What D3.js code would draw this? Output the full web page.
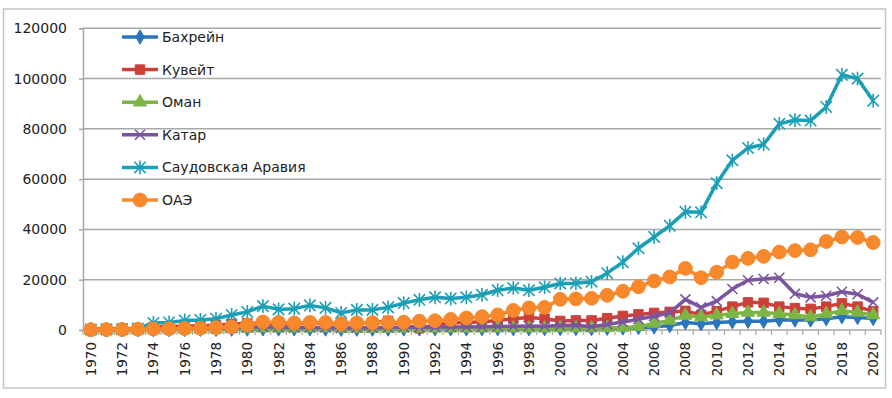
<!DOCTYPE html>
<html>
<head>
<meta charset="utf-8">
<script src="https://cdn.jsdelivr.net/npm/d3@7"></script>
<style>
  body { margin: 0; background: #fff; }
  text { font-family: 'DejaVu Sans', sans-serif; fill: #222; }
</style>
</head>
<body>
<div id="chart"></div>
<script>
// categories
const years = [1970, 1971, 1972, 1973, 1974, 1975, 1976, 1977, 1978, 1979,
               1980, 1981, 1982, 1983, 1984, 1985, 1986, 1987, 1988, 1989,
               1990, 1991, 1992, 1993, 1994, 1995, 1996, 1997, 1998, 1999,
               2000, 2001, 2002, 2003, 2004, 2005, 2006, 2007, 2008, 2009,
               2010, 2011, 2012, 2013, 2014, 2015, 2016, 2017, 2018, 2019, 2020];

// series values
const bahrain = [50, 60, 70, 100, 150, 200, 250, 300, 300, 350,
                 400, 450, 450, 450, 450, 400, 350, 350, 350, 400,
                 450, 450, 500, 500, 500, 550, 550, 550, 500, 550,
                 600, 600, 600, 700, 800, 1000, 1200, 1800, 3000, 2500,
                 3000, 3300, 3500, 3500, 4000, 4000, 4000, 4500, 5300, 5000, 4600];
const kuwait = [300, 350, 400, 500, 1200, 1400, 1600, 1700, 1900, 2400,
                2700, 2600, 2400, 2500, 2700, 2700, 2300, 2800, 3000, 3600,
                2000, 700, 2000, 2800, 3000, 3300, 3800, 4500, 5000, 4500,
                3600, 3800, 3800, 4700, 5600, 6200, 6800, 7200, 7600, 6000,
                7500, 9300, 11000, 10800, 9300, 8700, 8400, 9300, 10600, 9300, 7400];
const oman = [50, 60, 80, 100, 200, 300, 300, 350, 400, 500,
              600, 700, 700, 700, 700, 800, 600, 600, 600, 600,
              700, 700, 700, 700, 700, 700, 750, 750, 700, 700,
              800, 800, 800, 900, 1000, 1300, 2600, 3800, 5800, 5200,
              5900, 6500, 7000, 7000, 6500, 6000, 5200, 6400, 7700, 7000, 6000];
const qatar = [100, 120, 150, 200, 400, 500, 550, 600, 650, 900,
               1200, 1300, 1100, 1000, 1000, 1000, 800, 900, 900, 1000,
               1100, 1100, 1200, 1200, 1200, 1300, 1400, 1500, 1600, 1500,
               1800, 1900, 1300, 2200, 3200, 4300, 5500, 6800, 12200, 9000,
               11500, 16300, 19800, 20300, 20800, 14400, 13000, 13600, 15200, 14200, 11000];
const saudi = [200, 250, 350, 600, 2800, 3000, 3800, 4000, 4500, 6000,
               7200, 9500, 8200, 8500, 9800, 8800, 6800, 8000, 8000, 9000,
               10700, 12000, 13000, 12500, 13000, 14000, 15800, 16700, 15800, 17000,
               18500, 18600, 19200, 22600, 27000, 32500, 37000, 41500, 47000, 46800,
               58400, 67500, 72400, 73800, 82000, 83500, 83300, 88700, 101500, 100000, 91200];
const uae = [100, 150, 200, 300, 400, 500, 600, 700, 900, 1200,
             2000, 3200, 3000, 2800, 3000, 3000, 2500, 2800, 2900, 3000,
             3100, 3500, 3700, 4200, 4800, 5300, 6000, 7800, 8800, 9000,
             12200, 12400, 12600, 13800, 15400, 17200, 19500, 21100, 24500, 20800,
             23000, 27000, 28500, 29300, 31000, 31600, 31900, 35200, 37000, 36800, 34800];

const seriesNames = ['Бахрейн', 'Кувейт', 'Оман', 'Катар', 'Саудовская Аравия', 'ОАЭ'];
const seriesValues = [bahrain, kuwait, oman, qatar, saudi, uae];

// tick labels
const yTicks = [0, 20000, 40000, 60000, 80000, 100000, 120000];
const xTickYears = years.filter((d, i) => i % 2 === 0);

const width = 892;
const height = 398;

//plot area
const plotLeft = 83, plotRight = 881, plotTop = 28.3, plotBottom = 330;

//custom markers
const timesMarker = {
    draw(ctx, size) {
        const r = Math.sqrt(size) / 2;
        ctx.moveTo(-r, -r); ctx.lineTo(r, r);
        ctx.moveTo(-r, r); ctx.lineTo(r, -r);
    }
};
const starMarker = {
    draw(ctx, size) {
        const r = Math.sqrt(size) / 2;
        ctx.moveTo(-r, -r); ctx.lineTo(r, r);
        ctx.moveTo(-r, r); ctx.lineTo(r, -r);
        ctx.moveTo(0, -r * 1.2); ctx.lineTo(0, r * 1.2);
    }
};

const styles = [
    {color: '#2a76bd', type: d3.symbolDiamond, size: 60, stroke: false},
    {color: '#cc4039', type: d3.symbolSquare, size: 90, stroke: false},
    {color: '#7db545', type: d3.symbolTriangle, size: 75, stroke: false},
    {color: '#7b55a0', type: timesMarker, size: 100, stroke: true},
    {color: '#1b9fb6', type: starMarker, size: 130, stroke: true},
    {color: '#f7882c', type: d3.symbolCircle, size: 150, stroke: false}
];

let mySVG = d3.select('#chart')
    .append('svg')
        .attr('width', width)
        .attr('height', height);

//outer frame
mySVG.append('rect')
    .attr('x', 3.5).attr('y', 9)
    .attr('width', 882).attr('height', 379)
    .attr('fill', 'none')
    .attr('stroke', '#c4c4c4')
    .attr('stroke-width', 1.5);

let x = d3.scaleBand()
    .domain(years)
    .range([plotLeft, plotRight]);

let y = d3.scaleLinear()
    .domain([0, 120000])
    .range([plotBottom, plotTop]);

//gridlines
mySVG.append('g')
    .selectAll('line')
    .data(yTicks.filter(d => d > 0))
    .join('line')
        .attr('x1', plotLeft).attr('x2', plotRight)
        .attr('y1', d => y(d)).attr('y2', d => y(d))
        .attr('stroke', '#a8a8a8')
        .attr('stroke-width', 1.5);

//y-Axis
let yAxis = mySVG.append('g')
    .attr('transform', `translate(${plotLeft}, 0)`)
    .call(d3.axisLeft(y).tickValues(yTicks).tickSize(4).tickPadding(12).tickFormat(d => d));
yAxis.select('.domain').attr('stroke', '#a8a8a8').attr('stroke-width', 1.5);
yAxis.selectAll('.tick line').attr('stroke', '#a8a8a8').attr('stroke-width', 1.5);
yAxis.selectAll('.tick text')
    .style('font-size', '14px')
    .attr('fill', '#222');

//x-Axis
let xAxis = mySVG.append('g')
    .attr('transform', `translate(0, ${plotBottom})`);
xAxis.append('line')
    .attr('x1', plotLeft).attr('x2', plotRight)
    .attr('stroke', '#a8a8a8').attr('stroke-width', 1.5);
xAxis.selectAll('line.tk')
    .data(years.concat(['end']))
    .join('line')
        .classed('tk', true)
        .attr('x1', d => d === 'end' ? plotRight : x(d))
        .attr('x2', d => d === 'end' ? plotRight : x(d))
        .attr('y1', 0).attr('y2', 5)
        .attr('stroke', '#a8a8a8').attr('stroke-width', 1.2);
xAxis.selectAll('text')
    .data(xTickYears)
    .join('text')
        .attr('transform', d => `translate(${x(d) + x.bandwidth() / 2 + 5}, 12) rotate(-90)`)
        .attr('text-anchor', 'end')
        .style('font-size', '13.5px')
        .text(d => d);

//series
let line = d3.line()
    .x((d, i) => x(years[i]) + x.bandwidth() / 2)
    .y(d => y(d));

function drawMarkers(sel, st) {
    sel.attr('d', d3.symbol().type(st.type).size(st.size))
        .attr('fill', st.stroke ? 'none' : st.color)
        .attr('stroke', st.color)
        .attr('stroke-width', st.stroke ? 1.6 : 1);
}

seriesValues.forEach((vals, k) => {
    let st = styles[k];
    let g = mySVG.append('g');
    g.append('path')
        .datum(vals)
        .attr('d', line)
        .attr('fill', 'none')
        .attr('stroke', st.color)
        .attr('stroke-width', 3.5)
        .attr('stroke-linejoin', 'round');
    g.selectAll('path.mk')
        .data(vals)
        .join('path')
            .classed('mk', true)
            .attr('transform', (d, i) => `translate(${x(years[i]) + x.bandwidth() / 2}, ${y(d)})`)
            .call(drawMarkers, st);
});

//legend
let legend = mySVG.append('g');
seriesNames.forEach((name, k) => {
    let st = styles[k];
    let ly = 37 + k * 32.6;
    legend.append('line')
        .attr('x1', 122).attr('x2', 158)
        .attr('y1', ly).attr('y2', ly)
        .attr('stroke', st.color).attr('stroke-width', 3.5);
    legend.append('path')
        .attr('transform', `translate(140, ${ly})`)
        .call(drawMarkers, st);
    legend.append('text')
        .attr('x', 162).attr('y', ly)
        .attr('dy', '0.36em')
        .style('font-size', '14px')
        .text(name);
});
</script>
</body>
</html>
